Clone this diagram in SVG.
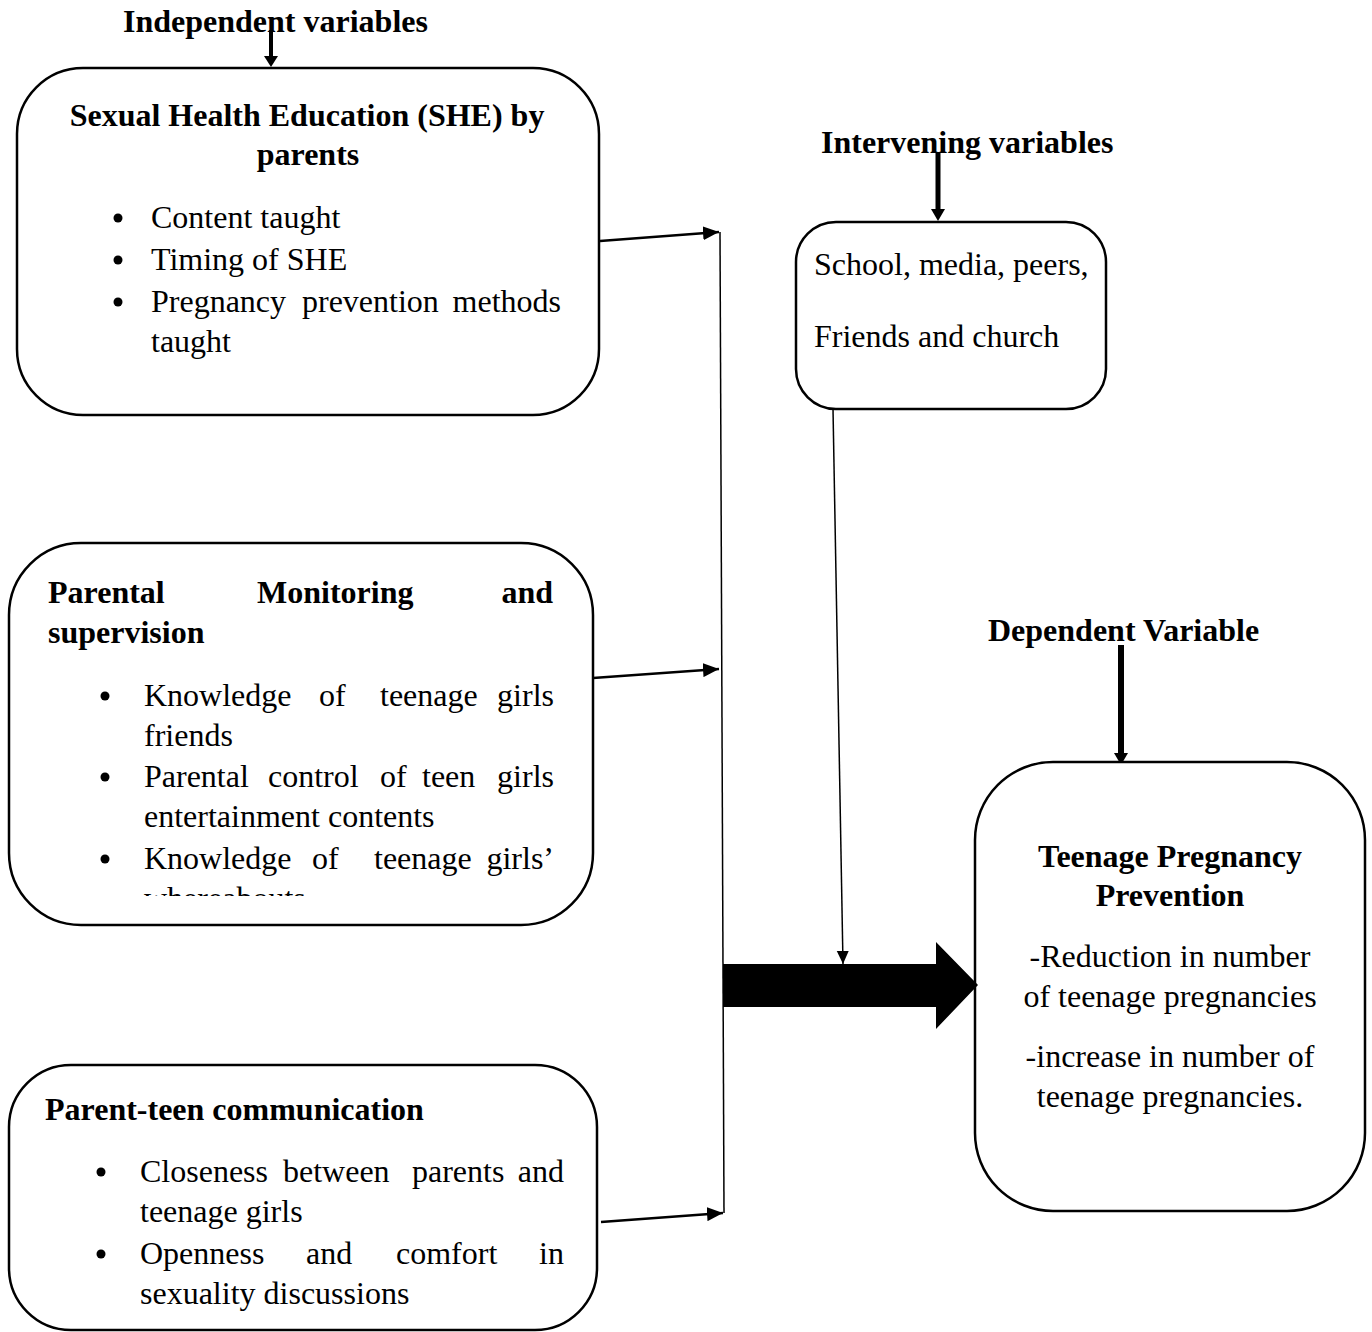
<svg xmlns="http://www.w3.org/2000/svg" width="1372" height="1332" viewBox="0 0 1372 1332">
<style>
.box{fill:#fff;stroke:#000;stroke-width:2.5}
.t{font-family:"Liberation Serif","Times New Roman",serif;font-size:32px;fill:#000}
.b{font-weight:bold}
.m{text-anchor:middle}
.e{text-anchor:end}
.c{stroke:#000;stroke-width:2.5;fill:none}
.thin{stroke:#000;stroke-width:1.5;fill:none}
</style>
<defs>
<marker id="ah" markerUnits="userSpaceOnUse" markerWidth="18" markerHeight="14" refX="16" refY="7" orient="auto">
<path d="M0,0 L16,7 L0,14 Z" fill="#000"/>
</marker>
<marker id="ahs" markerUnits="userSpaceOnUse" markerWidth="14" markerHeight="14" refX="13" refY="6" orient="auto">
<path d="M0,0 L13,6 L0,12 Z" fill="#000"/>
</marker>
<clipPath id="clip2"><rect x="0" y="540" width="600" height="356"/></clipPath>
</defs>

<g id="label-independent">
<text class="t b" x="123" y="32">Independent variables</text>
<path d="M271,30 V58" stroke="#000" stroke-width="4"/>
<path d="M264,56 L278,56 L271,67 Z" fill="#000"/>
</g>

<g id="node-she">
<rect class="box" x="17" y="68" width="582" height="347" rx="66" ry="66"/>
<text class="t b m" x="307" y="126">Sexual Health Education (SHE) by</text>
<text class="t b m" x="308" y="165">parents</text>
<circle cx="118" cy="218" r="4.5"/>
<text class="t" x="151" y="228">Content taught</text>
<circle cx="118" cy="260" r="4.5"/>
<text class="t" x="151" y="270">Timing of SHE</text>
<circle cx="118" cy="302" r="4.5"/>
<text class="t" y="312"><tspan x="151">Pregnancy</tspan><tspan x="302">prevention</tspan></text>
<text class="t e" x="561" y="312">methods</text>
<text class="t" x="151" y="352">taught</text>
</g>

<g id="node-monitoring">
<rect class="box" x="9" y="543" width="584" height="382" rx="72" ry="72"/>
<text class="t b" y="603"><tspan x="48">Parental</tspan><tspan x="257">Monitoring</tspan></text>
<text class="t b e" x="553" y="603">and</text>
<text class="t b" x="48" y="643">supervision</text>
<circle cx="105" cy="696" r="4.5"/>
<text class="t" y="706"><tspan x="144">Knowledge</tspan><tspan x="319">of</tspan><tspan x="380">teenage</tspan></text>
<text class="t e" x="554" y="706">girls</text>
<text class="t" x="144" y="746">friends</text>
<circle cx="105" cy="777" r="4.5"/>
<text class="t" y="787"><tspan x="144">Parental</tspan><tspan x="268">control</tspan><tspan x="380">of</tspan><tspan x="422">teen</tspan></text>
<text class="t e" x="554" y="787">girls</text>
<text class="t" x="144" y="827">entertainment contents</text>
<circle cx="105" cy="859" r="4.5"/>
<text class="t" y="869"><tspan x="144">Knowledge</tspan><tspan x="312">of</tspan><tspan x="374">teenage</tspan></text>
<text class="t e" x="554" y="869">girls’</text>
<text class="t" x="144" y="909" clip-path="url(#clip2)">whereabouts</text>
</g>

<g id="node-communication">
<rect class="box" x="9" y="1065" width="588" height="265" rx="62" ry="62"/>
<text class="t b" x="45" y="1120">Parent-teen communication</text>
<circle cx="101" cy="1172" r="4.5"/>
<text class="t" y="1182"><tspan x="140">Closeness</tspan><tspan x="283">between</tspan><tspan x="412">parents</tspan></text>
<text class="t e" x="564" y="1182">and</text>
<text class="t" x="140" y="1222">teenage girls</text>
<circle cx="101" cy="1254" r="4.5"/>
<text class="t" y="1264"><tspan x="140">Openness</tspan><tspan x="306">and</tspan><tspan x="396">comfort</tspan></text>
<text class="t e" x="564" y="1264">in</text>
<text class="t" x="140" y="1304">sexuality discussions</text>
</g>

<g id="label-intervening">
<text class="t b" x="821" y="153">Intervening variables</text>
<path d="M938,152 V210" stroke="#000" stroke-width="5"/>
<path d="M931,209 L945,209 L938,221 Z" fill="#000"/>
</g>

<g id="node-intervening">
<rect class="box" x="796" y="222" width="310" height="187" rx="40" ry="40"/>
<text class="t" x="814" y="275">School, media, peers,</text>
<text class="t" x="814" y="347">Friends and church</text>
</g>

<g id="label-dependent">
<text class="t b" x="988" y="641">Dependent Variable</text>
<path d="M1121,645 V754" stroke="#000" stroke-width="6"/>
<path d="M1114,753 L1128,753 L1121,765 Z" fill="#000"/>
</g>

<g id="node-dependent">
<rect class="box" x="975" y="762" width="390" height="449" rx="78" ry="78"/>
<text class="t b m" x="1170" y="867">Teenage Pregnancy</text>
<text class="t b m" x="1170" y="906">Prevention</text>
<text class="t m" x="1170" y="967">-Reduction in number</text>
<text class="t m" x="1170" y="1007">of teenage pregnancies</text>
<text class="t m" x="1170" y="1067">-increase in number of</text>
<text class="t m" x="1170" y="1107">teenage pregnancies.</text>
</g>

<g id="connectors">
<line class="c" x1="600" y1="241" x2="719" y2="232" marker-end="url(#ah)"/>
<line class="c" x1="593" y1="678" x2="719" y2="669" marker-end="url(#ah)"/>
<line class="c" x1="601" y1="1222" x2="723" y2="1213" marker-end="url(#ah)"/>
<line class="thin" x1="720" y1="232" x2="724" y2="1213"/>
<line class="thin" x1="833" y1="409" x2="843" y2="964" marker-end="url(#ahs)"/>
<path d="M723,964 H936 V942 L978,985 L936,1029 V1007 H723 Z" fill="#000"/>
</g>
</svg>
